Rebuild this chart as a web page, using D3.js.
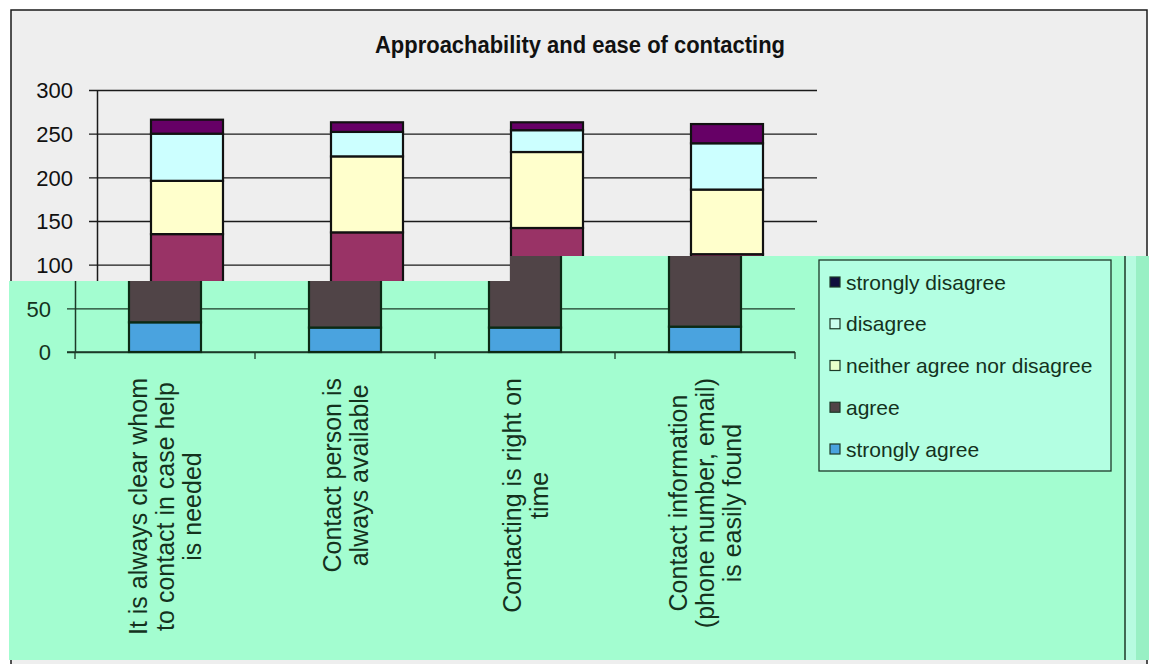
<!DOCTYPE html>
<html>
<head>
<meta charset="utf-8">
<script src="https://cdn.jsdelivr.net/npm/d3@7"></script>
<style>
  html, body { margin: 0; padding: 0; background: #fff; }
  svg { display: block; font-family: "Liberation Sans", Arial, sans-serif; }
</style>
</head>
<body>
<svg id="chart" width="1149" height="664"></svg>
<script>
// ---- data ----
const categories = [
  "It is always clear whom|to contact in case help|is needed",
  "Contact person is|always available",
  "Contacting is right on|time",
  "Contact information|(phone number, email)|is easily found"
];
const seriesNames = ["strongly agree", "agree", "neither agree nor disagree", "disagree", "strongly disagree"];
const stronglyAgree    = [34, 28, 28, 29];
const agree            = [101, 109, 114, 83];
const neither          = [61, 87, 87, 74];
const disagree         = [54, 28, 25, 53];
const stronglyDisagree = [16, 11, 9, 22];
const yTicks = [0, 50, 100, 150, 200, 250, 300];
const titleText = "Approachability and ease of contacting";

const rows = categories.map((c, i) => ({
  cat: c,
  "strongly agree": stronglyAgree[i],
  "agree": agree[i],
  "neither agree nor disagree": neither[i],
  "disagree": disagree[i],
  "strongly disagree": stronglyDisagree[i]
}));
const stacked = d3.stack().keys(seriesNames)(rows);

// ---- palettes for the two renderings ----
const basePalette = {
  bg: "#eeeeee", page: "#ffffff", line: "#1a1a1a", text: "#111111", barStroke: "#111111",
  legendBg: "#eeeeee",
  fills: ["#9999ff", "#993366", "#ffffcc", "#ccffff", "#660066"]
};
const mintPalette = {
  bg: "#a3fdd0", page: "#b6fbe0", line: "#1c3a28", text: "#14321d", barStroke: "#0b2a14",
  legendBg: "#b3ffe2",
  fills: ["#4aa3df", "#504447", "#eaffcc", "#ccfff0", "#10103e"]
};

const svg = d3.select("#chart");
const W = 1149, H = 664;

// scales shared by both renderings
const x = d3.scaleBand().domain(categories).range([97, 817]).paddingInner(0.6).paddingOuter(0.3);
const y = d3.scaleLinear().domain([0, 300]).range([352, 90]);

// which parts each rendering needs (the rest lies under the other one)
function drawChart(g, pal, parts) {
  // chart area
  g.append("rect").attr("x", 11).attr("y", 10).attr("width", 1136).attr("height", 700)
    .attr("fill", pal.bg).attr("stroke", pal.line).attr("stroke-width", 1.5);

  // title
  if (parts.title) {
    g.append("text").attr("x", 580).attr("y", 53).attr("text-anchor", "middle")
      .attr("font-size", 24).attr("font-weight", "bold").attr("fill", pal.text)
      .attr("textLength", 410).attr("lengthAdjust", "spacingAndGlyphs")
      .text(titleText);
  }

  // gridlines + y axis ticks
  const shownTicks = yTicks.filter(parts.tickFilter);
  const yAxis = d3.axisLeft(y).tickValues(shownTicks).tickSize(-(817 - 97)).tickSizeOuter(0).tickPadding(24);
  const ya = g.append("g").attr("transform", "translate(97,0)").call(yAxis);
  ya.select(".domain").attr("stroke", pal.line).attr("stroke-width", 1.5);
  ya.selectAll(".tick line").attr("stroke", pal.line).attr("stroke-width", 1.3).attr("x1", -8);
  ya.selectAll(".tick text").attr("fill", pal.text).attr("font-size", 22)
    .attr("font-family", "Liberation Sans, Arial, sans-serif").attr("dy", "0.35em");

  // x axis with ticks between categories
  const boundaries = d3.range(categories.length + 1).map(i => 97 + i * x.step());
  g.append("line").attr("x1", 89).attr("x2", 817).attr("y1", y(0)).attr("y2", y(0))
    .attr("stroke", pal.line).attr("stroke-width", 1.5);
  g.selectAll(".xtick").data(boundaries).join("line").attr("class", "xtick")
    .attr("x1", d => d).attr("x2", d => d).attr("y1", y(0)).attr("y2", y(0) + 7)
    .attr("stroke", pal.line).attr("stroke-width", 1.3);

  // stacked bars
  g.selectAll(".series").data(stacked).join("g").attr("class", "series")
    .attr("fill", (d, i) => pal.fills[i])
    .selectAll("rect").data(d => d).join("rect")
    .attr("x", d => x(d.data.cat))
    .attr("width", x.bandwidth())
    .attr("y", d => y(d[1]))
    .attr("height", d => y(d[0]) - y(d[1]))
    .attr("stroke", pal.barStroke).attr("stroke-width", 2.2);

  // category labels, rotated, one text per line
  if (parts.labels) {
    categories.forEach(c => {
      const lines = c.split("|");
      const cx = x(c) + x.bandwidth() / 2;
      const grp = g.append("g");
      const texts = lines.map(ln => grp.append("text")
        .attr("font-size", 25).attr("fill", pal.text).attr("text-anchor", "middle")
        .attr("dominant-baseline", "central").text(ln));
      const maxW = d3.max(texts, t => t.node().getComputedTextLength());
      texts.forEach((t, i) => {
        const lx = cx + (i - (lines.length - 1) / 2) * 27;
        t.attr("transform", `translate(${lx},${378 + maxW / 2}) rotate(-90)`);
      });
    });
  }

  // legend
  if (parts.legend) {
    const lg = g.append("g");
    lg.append("rect").attr("x", 841).attr("y", 260).attr("width", 292).attr("height", 211)
      .attr("fill", pal.legendBg).attr("stroke", pal.line).attr("stroke-width", 1.3);
    const order = d3.range(seriesNames.length).reverse();
    order.forEach((si, row) => {
      const cy = 282 + row * 41.75;
      lg.append("rect").attr("x", 852).attr("y", cy - 5).attr("width", 10).attr("height", 10)
        .attr("fill", pal.fills[si]).attr("stroke", pal.line).attr("stroke-width", 1.2);
      lg.append("text").attr("x", 868).attr("y", cy).attr("dominant-baseline", "central")
        .attr("font-size", 21).attr("fill", pal.text)
        .text(seriesNames[si]);
    });
  }
}

// page
svg.append("rect").attr("width", W).attr("height", H).attr("fill", "#ffffff");

// base rendering (upper part)
drawChart(svg.append("g"), basePalette, {
  title: true, labels: false, legend: false, tickFilter: v => v >= 100
});

// offset mint rendering over the lower region
const defs = svg.append("defs");
defs.append("clipPath").attr("id", "lowerClip")
  .append("polygon")
  .attr("points", [[9, 281], [510, 281], [510, 256], [1149, 256], [1149, 660], [9, 660]].map(p => p.join(",")).join(" "));

const lower = svg.append("g").attr("clip-path", "url(#lowerClip)");
lower.append("rect").attr("width", W).attr("height", H).attr("fill", mintPalette.page);
lower.append("rect").attr("x", 1136).attr("y", 0).attr("width", 13).attr("height", H).attr("fill", "#98f0c4");
drawChart(lower.append("g").attr("transform", "translate(-22,0)"), mintPalette, {
  title: false, labels: true, legend: true, tickFilter: v => v <= 50
});
</script>
</body>
</html>
